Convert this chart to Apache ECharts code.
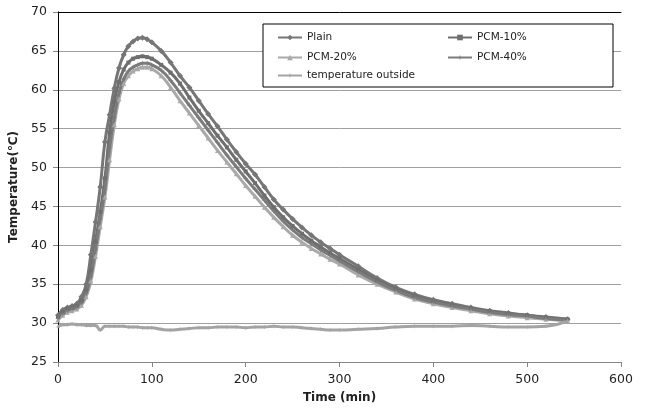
<!DOCTYPE html>
<html>
<head>
<meta charset="utf-8">
<script src="https://cdn.jsdelivr.net/npm/echarts@6/dist/echarts.min.js"></script>
<style>
  html, body { margin: 0; padding: 0; background: #fff; }
  #chart { width: 645px; height: 410px; }
</style>
</head>
<body>
<div id="chart"></div>
<script>
// time (min) shared by every series
const times = [0, 5, 10, 15, 20, 25, 30, 35, 40, 45, 50, 55, 60, 65, 70, 75, 80, 85, 90, 95, 100,
  110, 120, 130, 140, 150, 160, 170, 180, 190, 200, 210, 220, 230, 240, 250, 260, 270, 280, 290, 300,
  320, 340, 360, 380, 400, 420, 440, 460, 480, 500, 520, 543];

const plain = [31.0, 31.7, 32.0, 32.2, 32.5, 33.4, 35.0, 38.8, 43.0, 47.5, 53.3, 56.8, 60.2, 62.8, 64.5, 65.6, 66.2, 66.6, 66.7, 66.5, 66.1,
  65.0, 63.5, 61.8, 60.3, 58.6, 56.9, 55.3, 53.6, 52.0, 50.5, 49.1, 47.5, 45.9, 44.6, 43.4, 42.3, 41.3, 40.4, 39.6, 38.8,
  37.3, 35.8, 34.6, 33.7, 33.0, 32.5, 32.0, 31.6, 31.3, 31.0, 30.8, 30.5];

const pcm10 = [30.8, 31.4, 31.8, 32.0, 32.2, 32.9, 34.2, 36.8, 40.5, 44.3, 48.6, 54.5, 58.5, 61.0, 62.6, 63.5, 64.0, 64.2, 64.3, 64.2, 64.0,
  63.2, 62.2, 60.8, 59.0, 57.3, 55.7, 54.1, 52.6, 51.0, 49.5, 48.0, 46.4, 44.9, 43.6, 42.5, 41.5, 40.6, 39.8, 39.0, 38.3,
  36.9, 35.5, 34.4, 33.5, 32.8, 32.3, 31.9, 31.5, 31.2, 31.0, 30.7, 30.5];

const pcm20 = [30.4, 31.0, 31.4, 31.6, 31.8, 32.3, 33.4, 35.4, 38.6, 42.4, 46.2, 51.0, 55.5, 58.8, 60.8, 61.8, 62.4, 62.7, 62.9, 62.9, 62.7,
  61.8, 60.3, 58.6, 57.0, 55.4, 53.8, 52.2, 50.7, 49.2, 47.7, 46.3, 44.9, 43.6, 42.4, 41.3, 40.4, 39.6, 38.9, 38.2, 37.6,
  36.2, 35.0, 34.0, 33.1, 32.5, 32.0, 31.6, 31.2, 30.9, 30.7, 30.5, 30.3];

const pcm40 = [30.6, 31.2, 31.6, 31.8, 32.0, 32.6, 33.8, 36.0, 39.5, 43.4, 47.2, 52.5, 56.4, 59.6, 61.4, 62.4, 62.9, 63.2, 63.4, 63.4, 63.2,
  62.5, 61.2, 59.6, 58.0, 56.4, 54.8, 53.2, 51.6, 50.1, 48.6, 47.2, 45.8, 44.4, 43.1, 42.0, 41.0, 40.2, 39.4, 38.7, 38.0,
  36.6, 35.3, 34.2, 33.3, 32.7, 32.2, 31.8, 31.4, 31.1, 30.9, 30.6, 30.4];

const outside = [29.5, 29.8, 29.8, 29.9, 29.8, 29.8, 29.7, 29.7, 29.7, 29.1, 29.6, 29.6, 29.6, 29.6, 29.6, 29.5, 29.5, 29.5, 29.4, 29.4, 29.4,
  29.2, 29.1, 29.2, 29.3, 29.4, 29.4, 29.5, 29.5, 29.5, 29.4, 29.5, 29.5, 29.6, 29.5, 29.5, 29.4, 29.3, 29.2, 29.1, 29.1,
  29.2, 29.3, 29.5, 29.6, 29.6, 29.6, 29.7, 29.6, 29.5, 29.5, 29.6, 30.3];

const names = ["Plain", "PCM-10%", "PCM-20%", "PCM-40%", "temperature outside"];

const FONT = "DejaVu Sans";
const star = "path://M5,0L6,4L10,5L6,6L5,10L4,6L0,5L4,4Z";

function pairs(vals) {
  return times.map((t, i) => [t, vals[i]]);
}

function mkSeries(name, vals, color, symbol, size) {
  return {
    name: name,
    type: "line",
    data: pairs(vals),
    smooth: true,
    symbol: symbol,
    symbolSize: size,
    showAllSymbol: true,
    lineStyle: { color: color, width: 3 },
    itemStyle: { color: color },
    emphasis: { disabled: true },
  };
}

// one legend per entry so the two columns line up like the original
function mkLegend(name, left, top) {
  return {
    data: [name],
    left: left,
    top: top,
    itemWidth: 24,
    itemHeight: 7,
    z: 6,
    textStyle: { fontFamily: FONT, fontSize: 10.5, color: "#222" },
  };
}

let option = {
  animation: false,
  backgroundColor: "#fff",
  grid: { left: 58, right: 24, top: 12, bottom: 48, containLabel: false },
  xAxis: [
    {
      type: "value",
      min: 0,
      max: 600,
      interval: 100,
      name: "Time (min)",
      nameLocation: "middle",
      nameGap: 30,
      nameTextStyle: { fontFamily: FONT, fontSize: 12, fontWeight: "bold", color: "#222" },
      axisLine: { show: true, lineStyle: { color: "#868686", width: 1 } },
      axisTick: { show: true, length: 5, lineStyle: { color: "#868686" } },
      axisLabel: { fontFamily: FONT, fontSize: 12.5, color: "#222", margin: 11 },
      splitLine: { show: false },
    },
    {
      type: "value",
      position: "top",
      min: 0,
      max: 600,
      axisLine: { show: true, lineStyle: { color: "#000", width: 1 } },
      axisTick: { show: false },
      axisLabel: { show: false },
      splitLine: { show: false },
    },
  ],
  yAxis: [
    {
      type: "value",
      min: 25,
      max: 70,
      interval: 5,
      name: "Temperature(℃)",
      nameLocation: "middle",
      nameGap: 33,
      nameTextStyle: { fontFamily: FONT, fontSize: 12, fontWeight: "bold", color: "#222" },
      axisLine: { show: true, lineStyle: { color: "#868686", width: 1 } },
      axisTick: { show: true, length: 5, lineStyle: { color: "#868686" } },
      axisLabel: { fontFamily: FONT, fontSize: 12.5, color: "#222", margin: 11 },
      splitLine: { show: true, lineStyle: { color: "#a0a0a0", width: 1 } },
    },
    {
      type: "value",
      position: "right",
      min: 25,
      max: 70,
      axisLine: { show: true, lineStyle: { color: "#000", width: 1 } },
      axisTick: { show: false },
      axisLabel: { show: false },
      splitLine: { show: false },
    },
  ],
  graphic: [
    {
      type: "rect",
      z: 5,
      shape: { x: 263, y: 24, width: 350, height: 63 },
      style: { fill: "#fff", stroke: "#000", lineWidth: 1 },
    },
  ],
  legend: [
    mkLegend(names[0], 272, 27),
    mkLegend(names[1], 442, 27),
    mkLegend(names[2], 272, 47),
    mkLegend(names[3], 442, 47),
    mkLegend(names[4], 272, 65),
  ],
  series: [
    mkSeries(names[0], plain, "#767676", "diamond", 6),
    mkSeries(names[1], pcm10, "#6e6e6e", "rect", 4),
    mkSeries(names[2], pcm20, "#a9a9a9", "triangle", 5),
    mkSeries(names[3], pcm40, "#7b7b7b", star, 6),
    mkSeries(names[4], outside, "#a3a3a3", star, 5),
  ],
};

let chart = echarts.init(document.getElementById("chart"), null, { renderer: "canvas" });
chart.setOption(option);
</script>
</body>
</html>
